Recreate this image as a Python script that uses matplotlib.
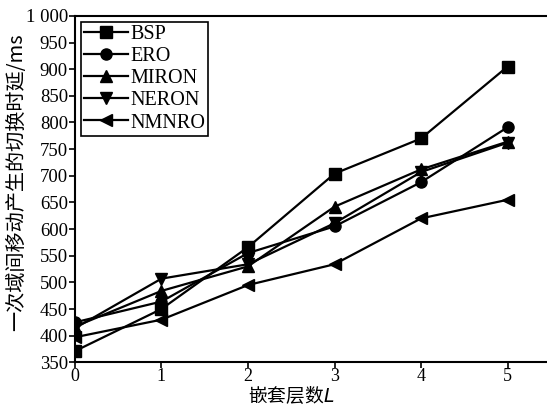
import matplotlib
matplotlib.use("Agg")
import matplotlib.pyplot as plt
from matplotlib.ticker import FuncFormatter

layers = [0, 1, 2, 3, 4, 5]
bsp = [371, 450, 566, 704, 770, 905]
ero = [425, 464, 555, 605, 688, 791]
miron = [417, 484, 530, 642, 712, 764]
neron = [414, 507, 534, 611, 707, 762]
nmnro = [397, 430, 495, 534, 620, 655]

series = [("BSP", bsp, "s"), ("ERO", ero, "o"), ("MIRON", miron, "^"),
          ("NERON", neron, "v"), ("NMNRO", nmnro, "<")]

serif = ["Liberation Serif", "DejaVu Serif"]
cjk = ["Noto Sans CJK SC", "DejaVu Sans"]

fig = plt.figure(figsize=(5.47, 4.08), dpi=100)
ax = fig.add_axes([0.137, 0.112, 0.87, 0.849])

for name, vals, mk in series:
    ax.plot(layers, vals, color="black", marker=mk, markersize=8,
            linewidth=1.6, label=name)

ax.set_xlim(0, 5.5)
ax.set_ylim(350, 1000)
ax.set_xticks(layers)
ax.set_yticks(range(350, 1001, 50))
ax.yaxis.set_major_formatter(FuncFormatter(
    lambda v, p: "1 000" if v >= 1000 else f"{int(v)}"))
for lab in ax.get_yticklabels():
    lab.set_fontfamily(serif)
    lab.set_fontsize(13.5)
for lab in ax.get_xticklabels():
    lab.set_fontfamily(serif)
    lab.set_fontsize(13)
ax.tick_params(direction="out", length=4, width=1.2, pad=1)
ax.tick_params(axis="x", pad=0)
for s in ax.spines.values():
    s.set_linewidth(1.5)
ax.spines["right"].set_visible(False)

ax.set_ylabel("一次域间移动产生的切换时延/ms", family=cjk, fontsize=14.5)
ax.yaxis.set_label_coords(-0.1, 0.52)
ax.set_xlabel("嵌套层数$L$", family=cjk, fontsize=13.5)
ax.xaxis.set_label_coords(2.5 / 5.5, -0.068)

leg = ax.legend(loc="upper left", prop={"family": serif, "size": 14.5},
                fancybox=False, edgecolor="black", framealpha=1,
                handlelength=2.2, handletextpad=0.1, labelspacing=0.15,
                borderpad=0.15, borderaxespad=0.3)
leg.get_frame().set_linewidth(1.2)

fig.savefig("out.png", dpi=100)
